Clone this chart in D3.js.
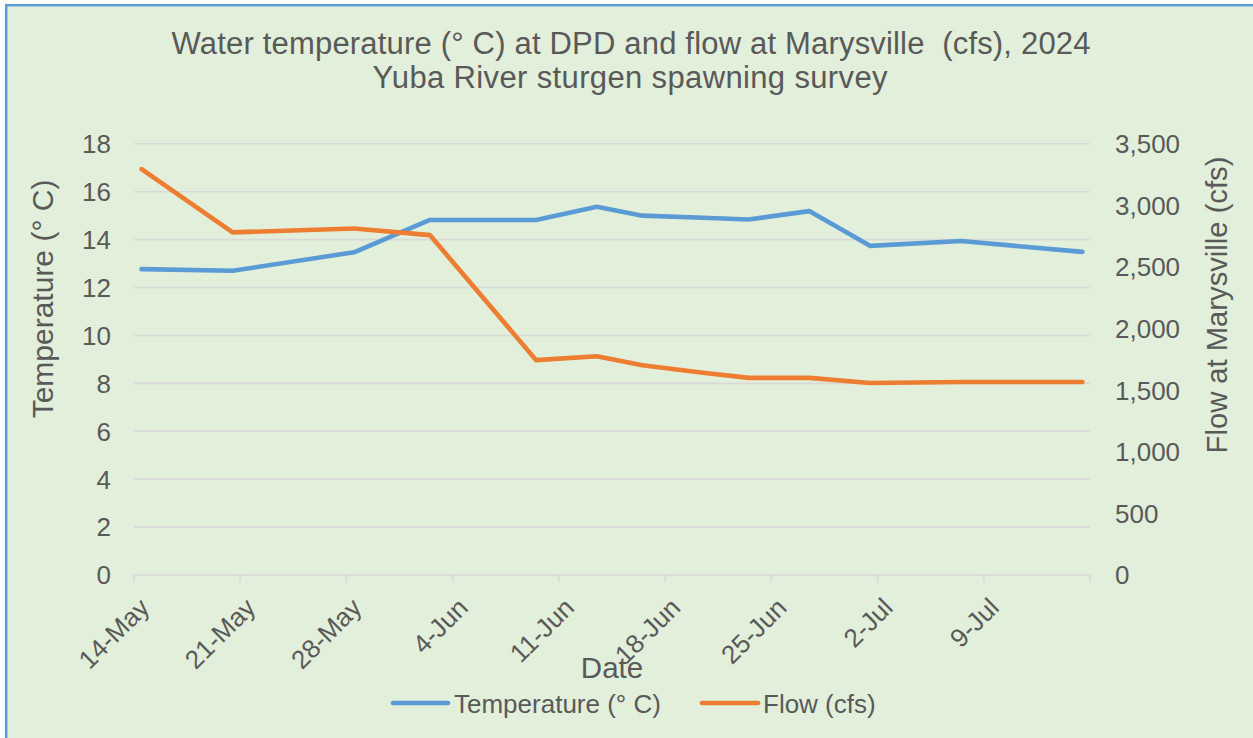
<!DOCTYPE html>
<html>
<head>
<meta charset="utf-8">
<script src="https://cdn.jsdelivr.net/npm/d3@7"></script>
<style>
  html, body { margin: 0; padding: 0; background: #ffffff; }
  svg { display: block; font-family: "Liberation Sans", Arial, sans-serif; }
  text { white-space: pre; }
</style>
</head>
<body>
<svg id="chart" width="1253" height="738"></svg>
<script>
// ---- data ----
const dates = ["2024-05-14","2024-05-20","2024-05-28","2024-06-02","2024-06-09","2024-06-13","2024-06-16","2024-06-20","2024-06-23","2024-06-27","2024-07-01","2024-07-07","2024-07-15"];
const temperature = [12.77, 12.70, 13.47, 14.82, 14.82, 15.37, 15.00, 14.91, 14.84, 15.19, 13.74, 13.94, 13.49];
const flow = [3295, 2781, 2813, 2759, 1744, 1775, 1703, 1641, 1600, 1600, 1559, 1567, 1567];
const tempTicks = [0, 2, 4, 6, 8, 10, 12, 14, 16, 18];
const flowTicks = [0, 500, 1000, 1500, 2000, 2500, 3000, 3500];
const axisStart = "2024-05-14";
const axisEnd = "2024-07-16";
const titleLines = ["Water temperature (° C) at DPD and flow at Marysville  (cfs), 2024", "Yuba River sturgen spawning survey"];
const seriesNames = ["Temperature (° C)", "Flow (cfs)"];

// ---- layout ----
const parse = d3.utcParse("%Y-%m-%d");
const fmtDate = d3.utcFormat("%-d-%b");
const textColor = "#595959";
const gridColor = "#d9d9d9";
const blue = "#5b9bd5", orange = "#ed7d31";

const svg = d3.select("#chart");
svg.append("rect").attr("x", 6.2).attr("y", 5.2).attr("width", 1260).attr("height", 760)
  .attr("fill", "#e2efda").attr("stroke", "#5b9bd5").attr("stroke-width", 2.5);

const x = d3.scaleUtc().domain([parse(axisStart), parse(axisEnd)]).range([134, 1090]);
const yT = d3.scaleLinear().domain([0, 18]).range([575, 143.8]);
const yF = d3.scaleLinear().domain([0, 3500]).range([575, 143.8]);
const mid = d => x(d3.utcHour.offset(d, 12));

// gridlines
svg.append("g").selectAll("line").data(tempTicks.filter(t => t > 0)).join("line")
  .attr("x1", 134).attr("x2", 1090)
  .attr("y1", d => yT(d)).attr("y2", d => yT(d))
  .attr("stroke", gridColor).attr("stroke-width", 1.6);

// x axis line + ticks (weekly from axis start)
const tickDates = d3.utcDay.range(parse(axisStart), d3.utcDay.offset(parse(axisEnd), 1), 7);
const xg = svg.append("g");
xg.append("line").attr("x1", 134).attr("x2", 1090).attr("y1", 575).attr("y2", 575)
  .attr("stroke", gridColor).attr("stroke-width", 1.6);
xg.selectAll("line.tk").data(tickDates).join("line").attr("class", "tk")
  .attr("x1", d => x(d)).attr("x2", d => x(d)).attr("y1", 575).attr("y2", 582)
  .attr("stroke", gridColor).attr("stroke-width", 1.6);
xg.selectAll("text").data(tickDates.filter(d => +d < +parse(axisEnd))).join("text")
  .attr("transform", d => `translate(${mid(d) - 4},${596}) rotate(-45)`)
  .attr("text-anchor", "end").attr("dy", "0.72em")
  .attr("font-size", 26).attr("fill", textColor)
  .text(d => fmtDate(d));

// left axis labels
svg.append("g").selectAll("text").data(tempTicks).join("text")
  .attr("x", 111).attr("y", d => yT(d)).attr("dy", "0.36em")
  .attr("text-anchor", "end").attr("font-size", 26).attr("fill", textColor)
  .text(d => d);

// right axis labels
const fmtFlow = d3.format(",");
svg.append("g").selectAll("text").data(flowTicks).join("text")
  .attr("x", 1115).attr("y", d => yF(d)).attr("dy", "0.36em")
  .attr("text-anchor", "start").attr("font-size", 26).attr("fill", textColor)
  .text(d => fmtFlow(d));

// lines
const pts = dates.map((d, i) => ({ d: parse(d), t: temperature[i], f: flow[i] }));
const lineT = d3.line().x(p => mid(p.d)).y(p => yT(p.t));
const lineF = d3.line().x(p => mid(p.d)).y(p => yF(p.f));
svg.append("path").datum(pts).attr("d", lineT).attr("fill", "none")
  .attr("stroke", blue).attr("stroke-width", 4.6).attr("stroke-linecap", "round").attr("stroke-linejoin", "round");
svg.append("path").datum(pts).attr("d", lineF).attr("fill", "none")
  .attr("stroke", orange).attr("stroke-width", 4.6).attr("stroke-linecap", "round").attr("stroke-linejoin", "round");

// titles
svg.append("text").attr("x", 631).attr("y", 54).attr("text-anchor", "middle")
  .attr("font-size", 31).attr("fill", textColor)
  .attr("textLength", 919).attr("lengthAdjust", "spacing").text(titleLines[0]);
svg.append("text").attr("x", 630).attr("y", 88.3).attr("text-anchor", "middle")
  .attr("font-size", 31).attr("fill", textColor)
  .attr("textLength", 515).attr("lengthAdjust", "spacing").text(titleLines[1]);

// axis titles
svg.append("text").attr("x", 612).attr("y", 678).attr("text-anchor", "middle")
  .attr("font-size", 29.5).attr("fill", textColor).text("Date");
svg.append("text").attr("transform", "translate(53.3,299) rotate(-90)").attr("text-anchor", "middle")
  .attr("font-size", 30).attr("fill", textColor).text("Temperature (° C)");
svg.append("text").attr("transform", "translate(1227,305) rotate(-90)").attr("text-anchor", "middle")
  .attr("font-size", 29.2).attr("fill", textColor).text("Flow at Marysville (cfs)");

// legend
const legend = svg.append("g");
const legItems = [{ name: seriesNames[0], color: blue, x0: 393, x1: 448, tx: 454 },
                  { name: seriesNames[1], color: orange, x0: 702, x1: 758, tx: 763 }];
legend.selectAll("line").data(legItems).join("line")
  .attr("x1", d => d.x0).attr("x2", d => d.x1).attr("y1", 703).attr("y2", 703)
  .attr("stroke", d => d.color).attr("stroke-width", 4.6).attr("stroke-linecap", "round");
legend.selectAll("text").data(legItems).join("text")
  .attr("x", d => d.tx).attr("y", 712.5).attr("font-size", 26).attr("fill", textColor)
  .text(d => d.name);
</script>
</body>
</html>
